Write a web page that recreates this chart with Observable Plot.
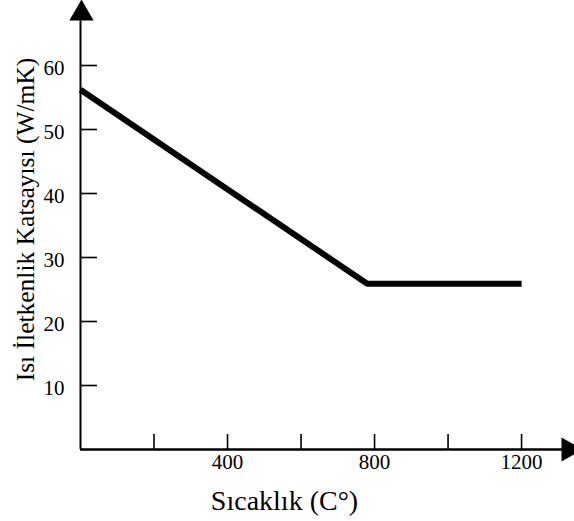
<!DOCTYPE html>
<html><head><meta charset="utf-8">
<script src="https://cdn.jsdelivr.net/npm/d3@7"></script>
<script src="https://cdn.jsdelivr.net/npm/@observablehq/plot@0.6"></script>
<style>body{margin:0;background:#fff}</style>
</head><body><div id="chart"></div>
<script>
// Data
const temperature = [0, 780, 1200];          // Sıcaklık (C°)
const conductivity = [56.2, 25.9, 25.9];     // W/mK
const xTicks = [200, 400, 600, 800, 1000, 1200];
const xTickLabels = [400, 800, 1200];
const yTicks = [10, 20, 30, 40, 50, 60];
const xLabel = "Sıcaklık (C°)";
const yLabel = "Isı İletkenlik Katsayısı (W/mK)";

const data = temperature.map((t, i) => ({t, k: conductivity[i]}));
const font = "'Liberation Serif', 'Times New Roman', serif";

const W = 574, H = 521;
const mL = 80, mR = 0, mT = 1, mB = 72;
const xDomain = [0, 1344];
const yDomain = [0, 70];
// convert pixel tick lengths to data units
const pxX = (xDomain[1] - xDomain[0]) / (W - mL - mR);
const pxY = (yDomain[1] - yDomain[0]) / (H - mT - mB);
const yTickLen = 17 * pxX;
const xTickLen = 15 * pxY;

const chart = Plot.plot({
  width: W, height: H,
  marginLeft: mL, marginRight: mR, marginTop: mT, marginBottom: mB,
  x: {domain: xDomain, axis: null},
  y: {domain: yDomain, axis: null},
  style: {fontFamily: font, background: "white", color: "black", overflow: "visible"},
  marks: [
    // axes lines
    Plot.ruleY([0], {x1: () => xDomain[0], x2: () => xDomain[1], stroke: "black", strokeWidth: 2.5}),
    Plot.ruleX([0], {y1: () => yDomain[0], y2: () => yDomain[1] - 3, stroke: "black", strokeWidth: 2}),
    // arrowheads
    Plot.dot([0], {x: d => d, y: () => yDomain[1], symbol: "triangle", r: 9, fill: "black", stroke: null, dy: 12, dx: 1}),
    Plot.dot([0], {x: () => xDomain[1], y: d => d, symbol: "triangle", r: 9, fill: "black", stroke: null, rotate: 90, dx: -6}),
    // inward tick marks
    Plot.ruleY(yTicks, {y: d => d, x1: () => 0, x2: () => yTickLen, stroke: "black", strokeWidth: 1.6}),
    Plot.ruleX(xTicks, {x: d => d, y1: () => 0, y2: () => xTickLen, stroke: "black", strokeWidth: 1.6}),
    // tick labels
    Plot.text(yTicks, {x: () => 0, y: d => d, text: d => String(d), textAnchor: "end", dx: -16, dy: 3, fontSize: 21, fill: "black"}),
    Plot.text(xTickLabels, {x: d => d, y: () => 0, text: d => String(d), lineAnchor: "top", dy: 5, fontSize: 21, fill: "black"}),
    // axis titles
    Plot.text([xLabel], {frameAnchor: "bottom", text: d => d, fontSize: 28, lineAnchor: "bottom", dy: 60, dx: -43, textAnchor: "middle"}),
    Plot.text([yLabel], {frameAnchor: "left", text: d => d, fontSize: 25.5, rotate: -90, lineAnchor: "bottom", textAnchor: "middle", dx: -47, dy: -6}),
    // data line
    Plot.line(data, {x: "t", y: "k", stroke: "black", strokeWidth: 6, strokeLinejoin: "miter", strokeLinecap: "butt"})
  ]
});
document.getElementById("chart").appendChild(chart);
</script>
</body></html>
